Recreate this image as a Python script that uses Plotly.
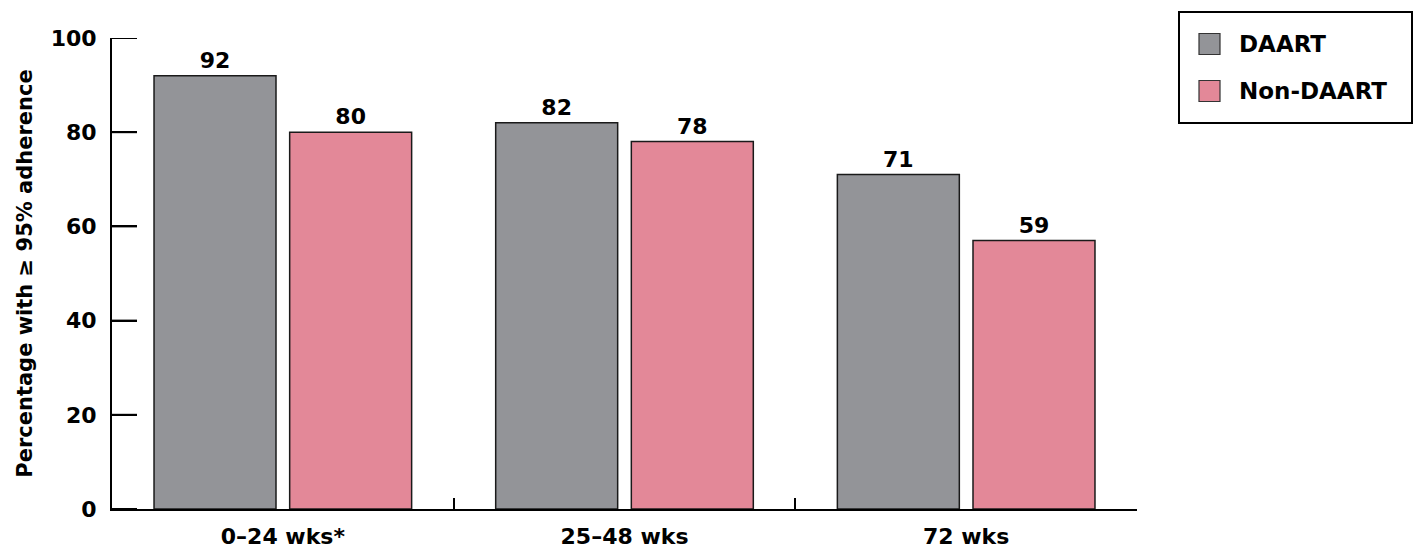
import plotly.graph_objects as go

categories = ["0–24 wks*", "25–48 wks", "72 wks"]
series_names = ["DAART", "Non-DAART"]
daart_values = [92, 82, 71]
non_daart_values = [80, 78, 57]
daart_labels = ["92", "82", "71"]
non_daart_labels = ["80", "78", "59"]
y_ticks = [0, 20, 40, 60, 80, 100]
colors = ["#939498", "#E38898"]

FONT = "DejaVu Sans, Liberation Sans, Arial, sans-serif"

fig = go.Figure()
for name, vals, labs, col, off in [
    (series_names[0], daart_values, daart_labels, colors[0], -0.377),
    (series_names[1], non_daart_values, non_daart_labels, colors[1], 0.02),
]:
    fig.add_trace(go.Bar(
        x=categories, y=vals, name=name, text=labs,
        width=0.357, offset=off,
        textposition="outside", cliponaxis=False,
        textfont=dict(size=22, color="black", family=FONT, weight="bold"),
        marker=dict(color=col, line=dict(color="#1a1a1a", width=1.5)),
        showlegend=False,
    ))

fig.update_layout(
    width=1416, height=550,
    margin=dict(l=112, r=279, t=38, b=41),
    paper_bgcolor="white", plot_bgcolor="white",
    font=dict(family=FONT, size=22, color="black", weight="bold"),
    barmode="group",
    xaxis=dict(
        type="category", range=[-0.5, 2.5], automargin=False,
        showline=True, linecolor="black", linewidth=2,
        ticks="inside", tickson="boundaries", ticklen=11, tickwidth=2, tickcolor="black",
        ticklabelstandoff=7,
        tickfont=dict(size=22, family=FONT, weight="bold"),
        showgrid=False, zeroline=False,
    ),
    yaxis=dict(
        range=[0, 100], tickmode="array", tickvals=y_ticks, automargin=False,
        showline=True, linecolor="black", linewidth=2,
        ticks="inside", ticklen=25, tickwidth=2, tickcolor="black",
        ticklabelstandoff=9,
        tickfont=dict(size=22, family=FONT, weight="bold"),
        showgrid=False, zeroline=False,
        title=dict(text="Percentage with ≥ 95% adherence",
                   font=dict(size=21, family=FONT, weight="bold"), standoff=12),
    ),
)

# Inside tick marks on the y scale (ensures the end ticks at 0 and 100 are drawn too)
for v in y_ticks:
    fig.add_shape(type="line", xref="paper", yref="y",
                  x0=0, x1=25 / 1025, y0=v, y1=v,
                  line=dict(color="black", width=2), layer="above")

# Legend box
fig.add_shape(type="rect", xref="paper", yref="paper",
              x0=(1179 - 112) / 1025, x1=(1412 - 112) / 1025,
              y0=(509 - 123) / 471, y1=(509 - 12) / 471,
              line=dict(color="black", width=2), fillcolor="white")
rows_y = [44, 91]
for name, col, yc in zip(series_names, colors, rows_y):
    fig.add_shape(type="rect", xref="paper", yref="paper",
                  x0=(1199 - 112) / 1025, x1=(1220 - 112) / 1025,
                  y0=(509 - (yc + 10.5)) / 471, y1=(509 - (yc - 10.5)) / 471,
                  line=dict(color="#333333", width=1.2), fillcolor=col)
    fig.add_annotation(xref="paper", yref="paper",
                       x=(1237 - 112) / 1025, y=(509 - yc) / 471,
                       text=name, showarrow=False, xanchor="left", yanchor="middle",
                       font=dict(size=23, family=FONT, color="black", weight="bold"))

fig.write_html("out.html")
